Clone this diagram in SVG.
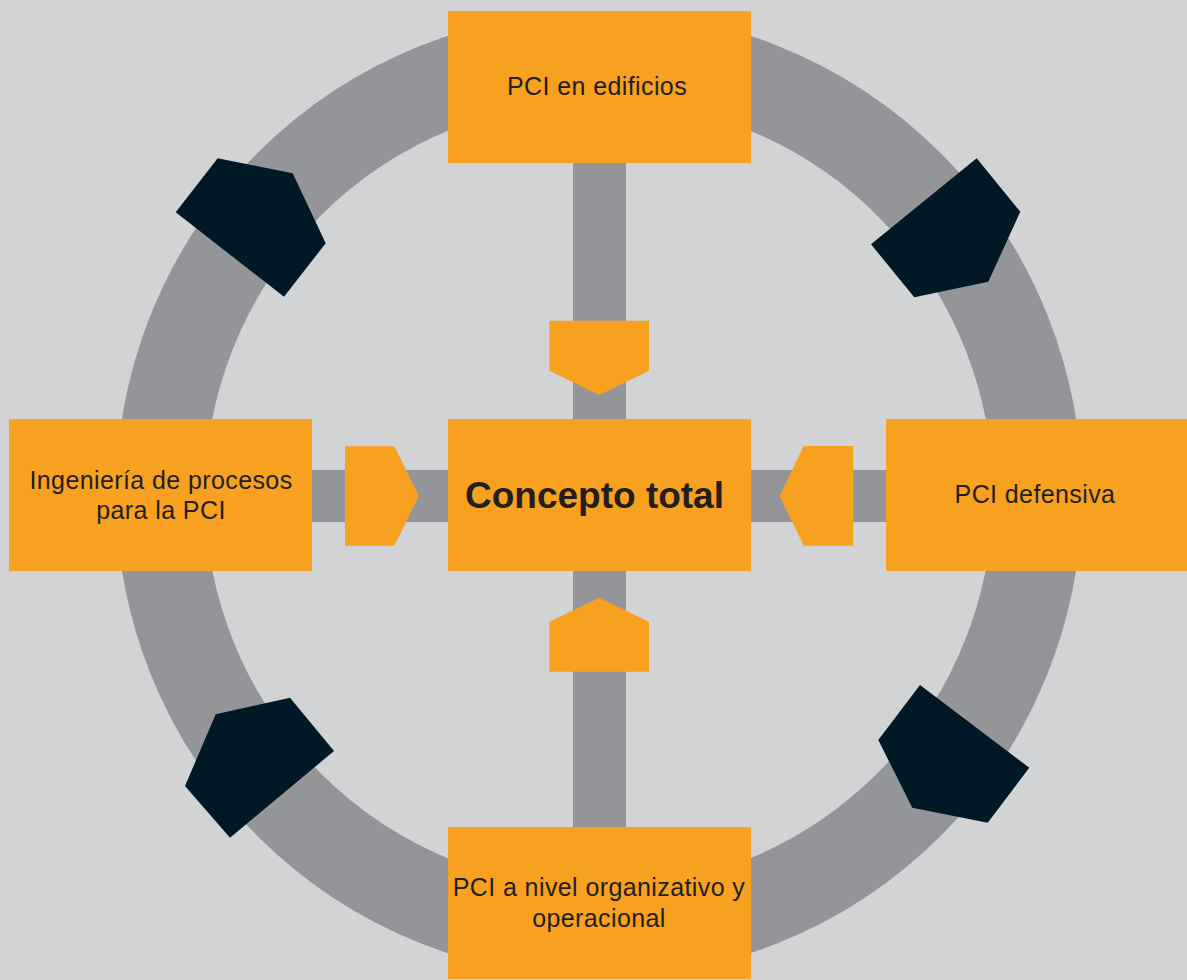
<svg xmlns="http://www.w3.org/2000/svg" width="1187" height="980" viewBox="0 0 1187 980">
  <style>
    .box { fill: #F8A01F; }
    .bar { fill: #939598; }
    .arrow { fill: #F8A01F; }
    .dark { fill: #011826; }
    .lbl { font-family: "Liberation Sans", Arial, sans-serif; font-size: 25px; letter-spacing: 0.4px; fill: #231F20; text-anchor: middle; }
    .main { font-family: "Liberation Sans", Arial, sans-serif; font-size: 37px; font-weight: bold; fill: #231F20; text-anchor: middle; }
  </style>
  <rect x="0" y="0" width="1187" height="980" fill="#D1D3D5"/>
  <g id="ring">
    <circle cx="599" cy="494.5" r="438.5" fill="none" stroke="#939598" stroke-width="89"/>
    <polygon class="dark" points="217.7,158.3 292.7,173.3 325.7,243.3 284,296.7 175.7,212.3"/>
    <polygon class="dark" points="976.7,158.3 1020.3,211.7 988.3,281.7 914.3,297.3 871,244.3"/>
    <polygon class="dark" points="215.7,714.3 290,697.7 334,751 230,837.7 185,786"/>
    <polygon class="dark" points="920,685 1029.3,767.7 987.7,822.7 912.3,807.7 878.3,740"/>
  </g>
  <g id="connectors">
    <rect class="bar" x="573" y="160" width="53" height="670"/>
    <rect class="bar" x="310" y="470" width="580" height="52"/>
    <polygon class="arrow" points="549.5,320.7 649,320.7 649,370.7 599.3,395 549.5,370.7"/>
    <polygon class="arrow" points="549.5,671.7 649,671.7 649,621.7 599.3,597.7 549.5,621.7"/>
    <polygon class="arrow" points="345,446.3 394.3,446.3 419,496 394.3,545.7 345,545.7"/>
    <polygon class="arrow" points="853.3,446 803.7,446 779.7,496 803.7,545.7 853.3,545.7"/>
  </g>
  <g id="node-top">
    <rect class="box" x="448" y="11" width="303" height="152"/>
    <text class="lbl" x="597" y="95">PCI en edificios</text>
  </g>
  <g id="node-left">
    <rect class="box" x="9" y="419" width="303" height="152"/>
    <text class="lbl" x="161" y="488.5">Ingeniería de procesos</text>
    <text class="lbl" x="161" y="518.5">para la PCI</text>
  </g>
  <g id="node-center">
    <rect class="box" x="448" y="419" width="303" height="152"/>
    <text class="main" x="594.5" y="508.3">Concepto total</text>
  </g>
  <g id="node-right">
    <rect class="box" x="886" y="419" width="301" height="152"/>
    <text class="lbl" x="1035" y="503">PCI defensiva</text>
  </g>
  <g id="node-bottom">
    <rect class="box" x="448" y="827" width="303" height="152"/>
    <text class="lbl" x="599" y="896">PCI a nivel organizativo y</text>
    <text class="lbl" x="599" y="927">operacional</text>
  </g>
</svg>
